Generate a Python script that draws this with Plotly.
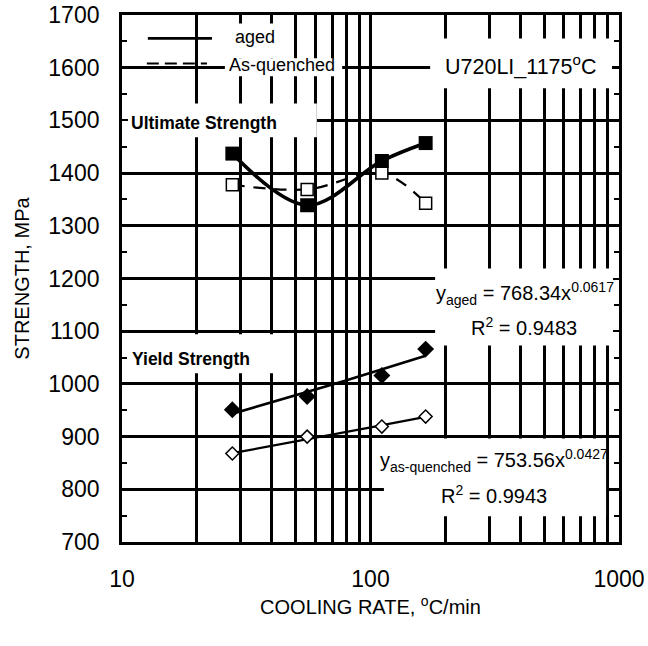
import plotly.graph_objects as go

# ---------------- data ----------------
cooling_rate = [27.8, 55.6, 111.1, 166.7]          # °C/min
uts_aged = [1437, 1339, 1423, 1457]                 # MPa
uts_as_quenched = [1378, 1369, 1400, 1343]          # MPa
ys_aged = [951, 976, 1016, 1066]                    # MPa
ys_as_quenched = [868, 900, 919, 938]               # MPa

# power-law fits shown on the chart: y = a * x^b
fit_aged = (768.34, 0.0617)
fit_as_quenched = (753.56, 0.0427)

x_tickvals = [10, 100, 1000]
x_ticktext = ["10", "100", "1000"]
x_minor = [20, 30, 40, 50, 60, 70, 80, 90, 200, 300, 400, 500, 600, 700, 800, 900]
y_tickvals = list(range(700, 1701, 100))
X_RANGE_LOG = [1, 3]
Y_RANGE = [700, 1700]

FONT = "Liberation Sans, Arial, Helvetica, sans-serif"


def fit_curve(coef, xs, n=20):
    a, b = coef
    lo, hi = min(xs), max(xs)
    xx = [lo * (hi / lo) ** (i / (n - 1)) for i in range(n)]
    return xx, [a * v ** b for v in xx]


def fx(f):  # fraction of x-axis -> data value (log axis)
    return 10 ** (X_RANGE_LOG[0] + (X_RANGE_LOG[1] - X_RANGE_LOG[0]) * f)


def fy(f):  # fraction of y-axis -> data value
    return Y_RANGE[0] + (Y_RANGE[1] - Y_RANGE[0]) * f


fig = go.Figure()

# Ultimate strength curves
fig.add_trace(go.Scatter(x=cooling_rate, y=uts_as_quenched, mode="lines",
                         line=dict(color="black", width=2.2, dash="12px,9px", shape="spline"),
                         showlegend=False, hoverinfo="skip"))
fig.add_trace(go.Scatter(x=cooling_rate, y=uts_aged, mode="lines",
                         line=dict(color="black", width=3.6, shape="spline"),
                         showlegend=False, hoverinfo="skip"))

# Yield strength trend lines (from displayed fit equations)
xa, ya = fit_curve(fit_aged, cooling_rate)
fig.add_trace(go.Scatter(x=xa, y=ya, mode="lines", line=dict(color="black", width=2.6),
                         showlegend=False, hoverinfo="skip"))
xq, yq = fit_curve(fit_as_quenched, cooling_rate)
fig.add_trace(go.Scatter(x=xq, y=yq, mode="lines", line=dict(color="black", width=2.2),
                         showlegend=False, hoverinfo="skip"))

# markers
fig.add_trace(go.Scatter(x=cooling_rate, y=uts_as_quenched, mode="markers",
                         marker=dict(symbol="square", size=12, color="white",
                                     line=dict(color="black", width=1.5)),
                         showlegend=False))
fig.add_trace(go.Scatter(x=cooling_rate, y=uts_aged, mode="markers",
                         marker=dict(symbol="square", size=14, color="black"),
                         showlegend=False))
fig.add_trace(go.Scatter(x=cooling_rate, y=ys_aged, mode="markers",
                         marker=dict(symbol="diamond", size=13, color="black"),
                         showlegend=False))
fig.add_trace(go.Scatter(x=cooling_rate, y=ys_as_quenched, mode="markers",
                         marker=dict(symbol="diamond", size=10, color="white",
                                     line=dict(color="black", width=1.5)),
                         showlegend=False))

# white label boxes that interrupt the grid (fractions of the plot area)
boxes = [
    (0.213, 0.328, 0.9177, 0.984),   # "aged"
    (0.207, 0.443, 0.884, 0.9177),   # "As-quenched"
    (0.0, 0.392, 0.768, 0.832),      # Ultimate Strength
    (0.62, 0.986, 0.861, 0.9556),    # U720LI
    (0.63, 1.0, 0.373, 0.519),       # y_aged box
    (0.527, 0.974, 0.049, 0.1966),   # y_as-quenched box
    (0.0, 0.322, 0.32, 0.394),       # Yield Strength
]
shapes = []
for x0, x1, y0, y1 in boxes:
    shapes.append(dict(type="rect", xref="x", yref="y", x0=fx(x0), x1=fx(x1), y0=fy(y0), y1=fy(y1),
                       fillcolor="white", line=dict(width=0), layer="between"))

# manual legend samples
shapes.append(dict(type="line", xref="paper", yref="paper", x0=0.052, x1=0.181, y0=0.9556, y1=0.9556,
                   line=dict(color="black", width=2.6), layer="above"))
shapes.append(dict(type="line", xref="paper", yref="paper", x0=0.050, x1=0.171, y0=0.908, y1=0.908,
                   line=dict(color="black", width=2.2, dash="12px,6px"), layer="above"))

annotations = [
    dict(text="aged", x=0.2233, y=0.9575, xanchor="left", yanchor="middle", font=dict(size=18)),
    dict(text="As-quenched", x=0.2113, y=0.906, xanchor="left", yanchor="middle", font=dict(size=18)),
    dict(text="<b>Ultimate Strength</b>", x=0.014, y=0.796, xanchor="left", yanchor="middle", font=dict(size=17.5)),
    dict(text="<b>Yield Strength</b>", x=0.016, y=0.3465, xanchor="left", yanchor="middle", font=dict(size=17.5)),
    dict(text="U720LI_1175<sup>o</sup>C", x=0.958, y=0.906, xanchor="right", yanchor="middle", font=dict(size=21.5)),
    dict(text="y<sub>aged</sub> = 768.34x<sup>0.0617</sup>", x=0.811, y=0.472, xanchor="center", yanchor="middle", font=dict(size=20)),
    dict(text="R<sup>2</sup> = 0.9483", x=0.809, y=0.408, xanchor="center", yanchor="middle", font=dict(size=20)),
    dict(text="y<sub>as-quenched</sub> = 753.56x<sup>0.0427</sup>", x=0.7485, y=0.155, xanchor="center", yanchor="middle", font=dict(size=20)),
    dict(text="R<sup>2</sup> = 0.9943", x=0.7485, y=0.0903, xanchor="center", yanchor="middle", font=dict(size=20)),
]
for a in annotations:
    a.update(xref="paper", yref="paper", showarrow=False)
    a["font"].update(family=FONT, color="black")

fig.update_layout(
    width=648, height=646,
    margin=dict(l=122, r=29, t=15, b=104, autoexpand=False),
    paper_bgcolor="white", plot_bgcolor="white",
    font=dict(family=FONT, color="black"),
    shapes=shapes, annotations=annotations,
    showlegend=False,
    xaxis=dict(type="log", range=X_RANGE_LOG, tickvals=x_tickvals, ticktext=x_ticktext,
               automargin=False,
               showgrid=True, gridcolor="black", gridwidth=2.8,
               minor=dict(tickvals=x_minor, showgrid=True, gridcolor="black", gridwidth=2.8, ticks=""),
               showline=True, linecolor="black", linewidth=2.8, mirror=True,
               ticks="", tickfont=dict(size=23), ticklabelstandoff=14,
               title=dict(text="COOLING RATE, <sup>o</sup>C/min", font=dict(size=20), standoff=10),
               zeroline=False),
    yaxis=dict(range=Y_RANGE, tickvals=y_tickvals, automargin=False,
               showgrid=True, gridcolor="black", gridwidth=2.8,
               showline=True, linecolor="black", linewidth=2.8, mirror="ticks",
               ticks="inside", ticklen=6, tickwidth=2, tickcolor="black",
               minor=dict(dtick=50, ticks="inside", ticklen=5, tickwidth=1.5, tickcolor="black", showgrid=False),
               tickfont=dict(size=23), ticklabelstandoff=15,
               title=dict(text="STRENGTH, MPa", font=dict(size=20), standoff=14),
               zeroline=False),
)

fig.write_html("out.html")
